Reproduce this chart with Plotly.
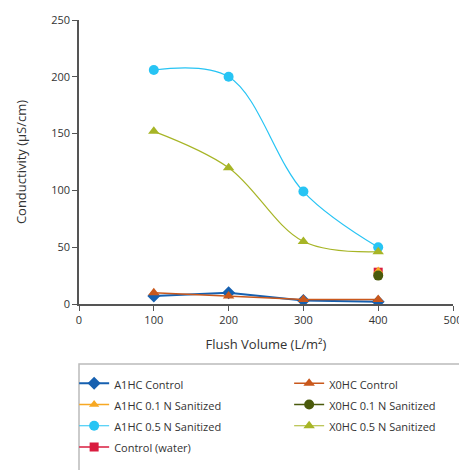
import plotly.graph_objects as go

x_vals = [100, 200, 300, 400]
a1hc_control = [7, 10, 3, 2]
x0hc_control = [10, 7, 4, 4]
a1hc_01_x = [400]
a1hc_01 = [29]
x0hc_01_x = [400]
x0hc_01 = [25]
a1hc_05 = [206, 200, 99, 50]
x0hc_05 = [152, 120, 55, 46]
water_x = [400]
water = [28]

FONT = "Open Sans"

fig = go.Figure()

def add(name, x, y, color, symbol, size=10, shape="linear", width=1.5, rank=1):
    fig.add_trace(go.Scatter(
        x=x, y=y, name='<span style="font-size:11px">' + name + '</span>',
        mode="lines+markers", legendrank=rank,
        line=dict(color=color, width=width, shape=shape, smoothing=1.0),
        marker=dict(color=color, symbol=symbol, size=size),
    ))

add("A1HC Control", x_vals, a1hc_control, "#1660b0", "diamond", 10, width=2, rank=1)
add("X0HC Control", x_vals, x0hc_control, "#c9581c", "triangle-up", 10, rank=2)
add("Control (water)", water_x, water, "#d91c3f", "square", 9, rank=7)
add("A1HC 0.1 N Sanitized", a1hc_01_x, a1hc_01, "#f7a823", "triangle-up", 9, rank=3)
add("X0HC 0.1 N Sanitized", x0hc_01_x, x0hc_01, "#4a5a0c", "circle", 10, rank=4)
add("A1HC 0.5 N Sanitized", x_vals, a1hc_05, "#27c4f4", "circle", 10, shape="spline", width=1.2, rank=5)
add("X0HC 0.5 N Sanitized", x_vals, x0hc_05, "#a7b526", "triangle-up", 10, shape="spline", width=1.2, rank=6)

fig.update_layout(
    width=459, height=470,
    margin=dict(l=79, r=6, t=20, b=166, autoexpand=False),
    paper_bgcolor="white", plot_bgcolor="white",
    font=dict(family=FONT, size=11, color="#333"),
    showlegend=True,
    legend=dict(
        orientation="h", x=-0.013, xanchor="left", y=-0.2245, yanchor="top",
        entrywidth=170, entrywidthmode="pixels",
        font=dict(family=FONT, size=14, color="#333"),
        itemwidth=30, bgcolor="rgba(0,0,0,0)",
    ),
    xaxis=dict(
        range=[0, 500], dtick=100, showgrid=False, zeroline=False,
        showline=True, linecolor="#555", linewidth=1.5,
        ticks="outside", ticklen=5, tickcolor="#555", ticklabeloverflow="allow",
        title=dict(text="Flush Volume (L/m²)", font=dict(size=13), standoff=14),
    ),
    yaxis=dict(
        range=[0, 250], dtick=50, showgrid=False, zeroline=False,
        showline=True, linecolor="#555", linewidth=1.5,
        ticks="outside", ticklen=5, tickcolor="#555",
        title=dict(text="Conductivity (µS/cm)", font=dict(size=13), standoff=22),
    ),
    shapes=[dict(type="rect", xref="paper", yref="paper",
                 x0=0, x1=1.05, y0=-0.7, y1=-0.211,
                 line=dict(color="#bbb", width=1.5), fillcolor="rgba(0,0,0,0)")],
)

fig.write_html("out.html")
